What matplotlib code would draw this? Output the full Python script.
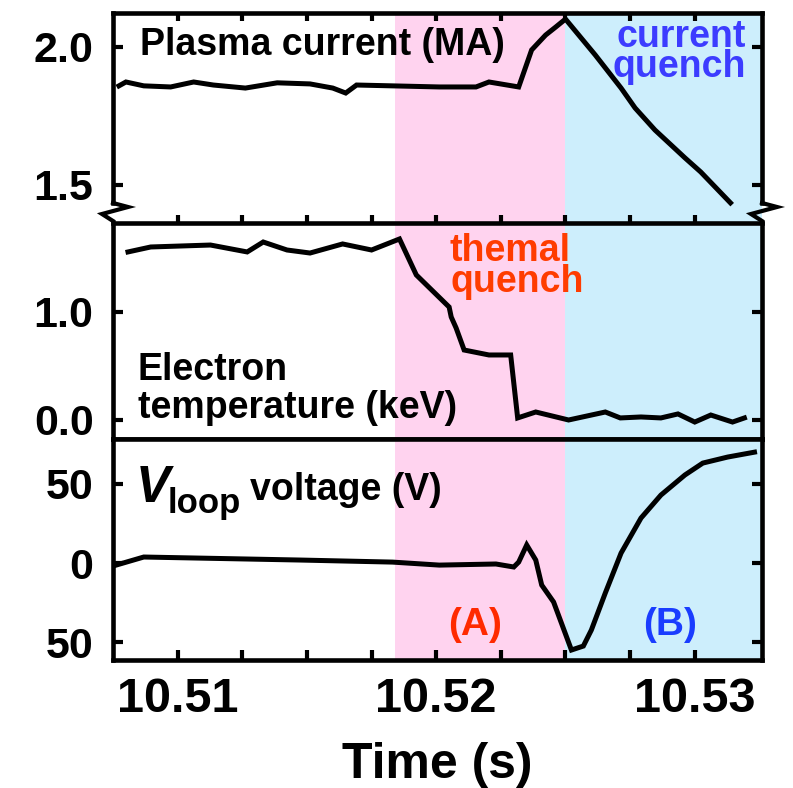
import numpy as np
import matplotlib
matplotlib.use('Agg')
import matplotlib.pyplot as plt
from matplotlib.lines import Line2D

plt.rcParams['font.family'] = ['Liberation Sans', 'DejaVu Sans']
plt.rcParams['font.weight'] = 'bold'

# time window and phases
t_lim = (10.5075, 10.5326)
tq_start = 10.5184   # thermal quench
cq_start = 10.525    # current quench

# plasma current (MA)
ip_t = [10.50773, 10.5080, 10.50869, 10.50973, 10.51062, 10.51138, 10.51262, 10.51385,
        10.51512, 10.51600, 10.51650, 10.51692, 10.52012, 10.52154, 10.52204, 10.52319,
        10.52369, 10.52423, 10.52462, 10.52500, 10.52615, 10.52715, 10.52769, 10.52846,
        10.52962, 10.53023, 10.53138]
ip = [1.859, 1.873, 1.859, 1.855, 1.873, 1.862, 1.851, 1.870,
      1.866, 1.851, 1.833, 1.862, 1.855, 1.855, 1.873, 1.855,
      1.989, 2.043, 2.072, 2.101, 1.971, 1.851, 1.779, 1.699,
      1.598, 1.547, 1.435]

# electron temperature (keV)
te_t = [10.50808, 10.50896, 10.51127, 10.51269, 10.51331, 10.51423, 10.51512, 10.51638,
        10.51750, 10.51858, 10.51923, 10.52050, 10.52058, 10.52077, 10.52108, 10.52204,
        10.52288, 10.52315, 10.52385, 10.52512, 10.52654, 10.52712, 10.52792, 10.52869,
        10.52935, 10.53000, 10.53062, 10.53146, 10.53192]
te = [1.556, 1.602, 1.620, 1.556, 1.648, 1.574, 1.546, 1.630,
      1.574, 1.676, 1.343, 1.046, 0.954, 0.852, 0.648, 0.602,
      0.602, 0.019, 0.074, 0.0, 0.074, 0.019, 0.028, 0.019,
      0.056, -0.019, 0.046, -0.019, 0.019]

# loop voltage (V)
v_t = [10.50762, 10.50869, 10.51473, 10.51831, 10.52012, 10.52231, 10.52300, 10.52319,
       10.52350, 10.52385, 10.52408, 10.52454, 10.52523, 10.52569, 10.52600, 10.52654,
       10.52715, 10.52792, 10.52869, 10.52962, 10.53031, 10.53127, 10.53231]
vloop = [-1.3, 3.8, 1.9, 0.6, -1.3, -0.6, -2.5, 0.6,
         11.4, 1.9, -13.9, -24.6, -54.9, -52.4, -42.3, -18.9,
         6.3, 28.4, 42.9, 55.6, 63.1, 66.9, 70.0]

x_major = [10.51, 10.52, 10.53]
x_labels = ['10.51', '10.52', '10.53']
ip_ticks, ip_labels = [1.5, 2.0], ['1.5', '2.0']
te_ticks, te_labels = [0.0, 1.0], ['0.0', '1.0']
v_ticks, v_labels = [-50, 0, 50], ['50', '0', '50']

W, H = 793, 788
fig = plt.figure(figsize=(W / 100, H / 100), dpi=100)

def box(x0, y0, x1, y1):
    return [x0 / W, 1 - y1 / H, (x1 - x0) / W, (y1 - y0) / H]

def fx(x, y):
    return x / W, 1 - y / H

ax1 = fig.add_axes(box(113, 13, 762, 223))
ax2 = fig.add_axes(box(113, 223, 762, 439))
ax3 = fig.add_axes(box(113, 439, 762, 660))

pink = '#ffd3ef'
blue = '#cdeefc'
lw = 3.6
for ax in (ax1, ax2, ax3):
    ax.axvspan(tq_start, cq_start, color=pink, lw=0)
    ax.axvspan(cq_start, t_lim[1], color=blue, lw=0)
    ax.set_xlim(t_lim)
    for s in ax.spines.values():
        s.set_linewidth(3.3)
    ax.set_xticks(x_major)
    ax.set_xticks(np.arange(10.51, 10.5301, 0.0025), minor=True)
    ax.tick_params(which='both', direction='in', width=3, length=7.5,
                   left=True, right=True, labelsize=31, pad=14)

ax1.plot(ip_t, ip, color='k', lw=lw, solid_joinstyle='miter')
ax2.plot(te_t, te, color='k', lw=lw, solid_joinstyle='miter')
ax3.plot(v_t, vloop, color='k', lw=lw, solid_joinstyle='miter')

ax1.set_ylim(1.362, 2.123)
ax1.set_yticks(ip_ticks, ip_labels)
ax1.spines['bottom'].set_visible(False)
ax1.spines['left'].set_bounds(1.435, 2.123)
ax1.spines['right'].set_bounds(1.435, 2.123)
ax1.tick_params(axis='x', which='both', top=True, bottom=True, labelbottom=False)
ax1.tick_params(axis='x', which='both', bottom=True, length=9)
ax1.tick_params(axis='x', which='both', top=True, length=6)

ax2.set_ylim(-0.176, 1.824)
ax2.set_yticks(te_ticks, te_labels)
ax2.tick_params(axis='x', which='both', top=False, bottom=False, labelbottom=False)

ax3.set_ylim(-61.2, 78.3)
ax3.set_yticks(v_ticks, v_labels)
ax3.set_xticklabels(x_labels)
ax3.tick_params(axis='x', which='both', top=False, bottom=True, labelsize=35, pad=12)

# axis break marks
for xs in (113, 762):
    pts = [fx(xs, 203), fx(xs + 15, 207), fx(xs - 11, 214), fx(xs, 221)]
    fig.add_artist(Line2D([p[0] for p in pts], [p[1] for p in pts], color='k',
                          lw=3.0, solid_joinstyle='miter'))

def label(x, y, s, **kw):
    fig.text(*fx(x, y), s, va='baseline', fontweight='bold', **kw)

label(140, 55, 'Plasma current (MA)', fontsize=27)
# multi-line labels: y is the baseline of the last line
label(746, 77, 'current\nquench', fontsize=27, ha='right', ma='right',
      linespacing=0.77, color='#3c3cff')
label(450, 292, 'themal\nquench', fontsize=27, ha='left', ma='left',
      linespacing=0.82, color='#ff3c00')
label(138, 380, 'Electron', fontsize=27)
label(138, 418, 'temperature (keV)', fontsize=27)
label(136, 502, 'V', fontsize=37, fontstyle='italic')
label(168, 513, 'loop', fontsize=25)
label(250, 500, 'voltage (V)', fontsize=27)
label(475, 635, '(A)', fontsize=28, ha='center', color='#ff2a00')
label(670, 635, '(B)', fontsize=28, ha='center', color='#1a3cff')
label(437, 778, 'Time (s)', fontsize=36, ha='center')

fig.savefig('out.png', dpi=100)
